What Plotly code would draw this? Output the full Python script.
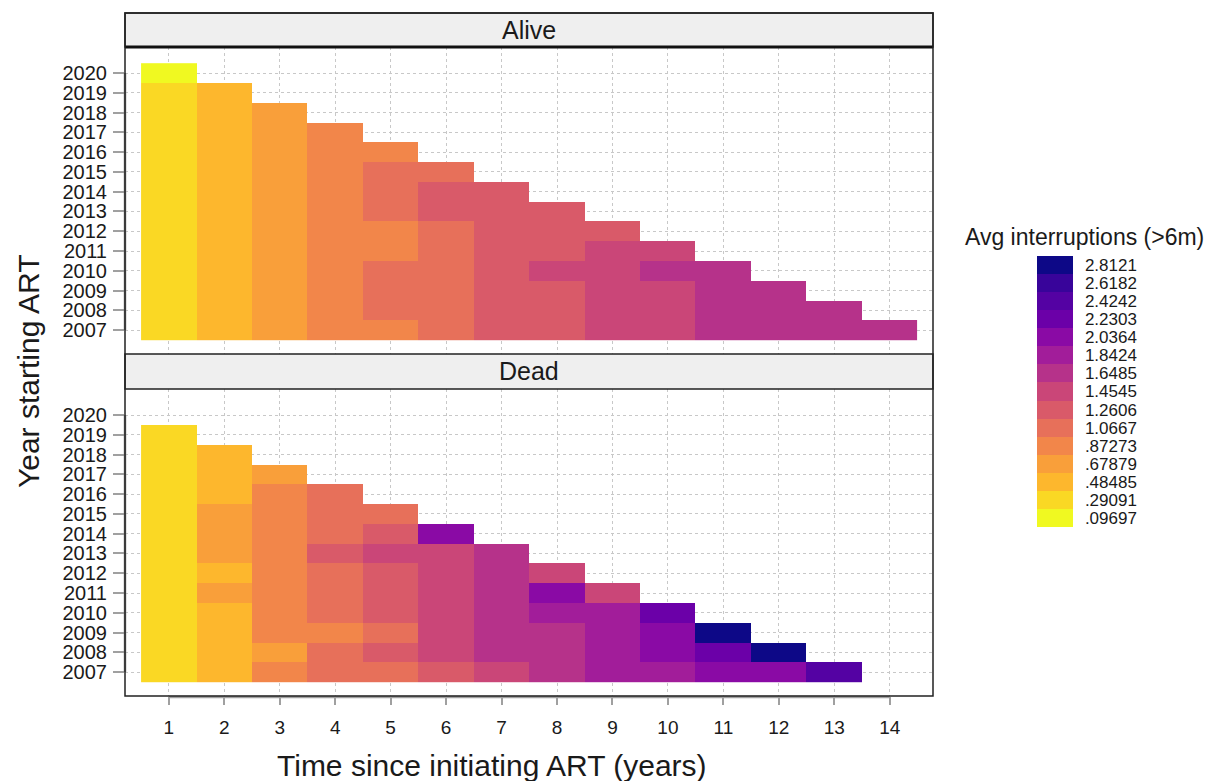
import plotly.graph_objects as go
from plotly.subplots import make_subplots

# ---- data ----
years = list(range(2007, 2021))
times = list(range(1, 15))

# legend levels (bin midpoints) and their labels
levels = [0.09697, 0.29091, 0.48485, 0.67879, 0.87273, 1.0667, 1.2606,
          1.4545, 1.6485, 1.8424, 2.0364, 2.2303, 2.4242, 2.6182, 2.8121]
level_labels = [".09697", ".29091", ".48485", ".67879", ".87273", "1.0667", "1.2606",
                "1.4545", "1.6485", "1.8424", "2.0364", "2.2303", "2.4242", "2.6182", "2.8121"]
bin_colors = ["#f0f921", "#fad824", "#fdb72d", "#f99f3a", "#f2864a", "#e7705a", "#d95a69",
              "#ca4678", "#b6328a", "#a21d9a", "#8a0aa5", "#6b00a8", "#5402a3", "#38049a", "#0d0887"]

# Alive panel: avg interruptions by year starting ART (rows) and time since ART (cols 1..)
alive = {
    2020: [0.097],
    2019: [0.291, 0.485],
    2018: [0.291, 0.485, 0.679],
    2017: [0.291, 0.485, 0.679, 0.873],
    2016: [0.291, 0.485, 0.679, 0.873, 0.873],
    2015: [0.291, 0.485, 0.679, 0.873, 1.067, 1.067],
    2014: [0.291, 0.485, 0.679, 0.873, 1.067, 1.261, 1.261],
    2013: [0.291, 0.485, 0.679, 0.873, 1.067, 1.261, 1.261, 1.261],
    2012: [0.291, 0.485, 0.679, 0.873, 0.873, 1.067, 1.261, 1.261, 1.261],
    2011: [0.291, 0.485, 0.679, 0.873, 0.873, 1.067, 1.261, 1.261, 1.455, 1.455],
    2010: [0.291, 0.485, 0.679, 0.873, 1.067, 1.067, 1.261, 1.455, 1.455, 1.648, 1.648],
    2009: [0.291, 0.485, 0.679, 0.873, 1.067, 1.067, 1.261, 1.261, 1.455, 1.455, 1.648, 1.648],
    2008: [0.291, 0.485, 0.679, 0.873, 1.067, 1.067, 1.261, 1.261, 1.455, 1.455, 1.648, 1.648, 1.648],
    2007: [0.291, 0.485, 0.679, 0.873, 0.873, 1.067, 1.261, 1.261, 1.455, 1.455, 1.648, 1.648, 1.648, 1.648],
}

# Dead panel
dead = {
    2020: [],
    2019: [0.291],
    2018: [0.291, 0.485],
    2017: [0.291, 0.485, 0.679],
    2016: [0.291, 0.485, 0.873, 1.067],
    2015: [0.291, 0.679, 0.873, 1.067, 1.067],
    2014: [0.291, 0.679, 0.873, 1.067, 1.261, 2.036],
    2013: [0.291, 0.679, 0.873, 1.261, 1.455, 1.455, 1.648],
    2012: [0.291, 0.485, 0.873, 1.067, 1.261, 1.455, 1.648, 1.455],
    2011: [0.291, 0.679, 0.873, 1.067, 1.261, 1.455, 1.648, 2.036, 1.455],
    2010: [0.291, 0.485, 0.873, 1.067, 1.261, 1.455, 1.648, 1.842, 1.842, 2.230],
    2009: [0.291, 0.485, 0.873, 0.873, 1.067, 1.455, 1.648, 1.648, 1.842, 2.036, 2.812],
    2008: [0.291, 0.485, 0.679, 1.067, 1.261, 1.455, 1.648, 1.648, 1.842, 2.036, 2.230, 2.812],
    2007: [0.291, 0.485, 0.873, 1.067, 1.067, 1.261, 1.455, 1.648, 1.842, 1.842, 2.036, 2.036, 2.424],
}


def to_matrix(d):
    rows = []
    for y in years:
        vals = d.get(y, [])
        rows.append(vals + [None] * (len(times) - len(vals)))
    return rows


half = (levels[1] - levels[0]) / 2
zmin = levels[0] - half
zmax = levels[-1] + half
n = len(bin_colors)
colorscale = []
for i, c in enumerate(bin_colors):
    colorscale.append([i / n, c])
    colorscale.append([(i + 1) / n, c])

FONT = "Liberation Sans, Arial, sans-serif"
TXT = "#1a1a1a"

fig = make_subplots(rows=2, cols=1, shared_xaxes=True, vertical_spacing=0.05)
fig.add_trace(go.Heatmap(x=times, y=years, z=to_matrix(alive), coloraxis="coloraxis",
                         hoverongaps=False, xgap=0, ygap=0), row=1, col=1)
fig.add_trace(go.Heatmap(x=times, y=years, z=to_matrix(dead), coloraxis="coloraxis",
                         hoverongaps=False, xgap=0, ygap=0), row=2, col=1)

# Plot area geometry (pixels): left 125, right 933, top 13, bottom 696
W, H = 1230, 781
L, R, T, B = 125, 933, 13, 696
pw, ph = R - L, B - T


def py(px):  # pixel y -> paper y
    return (B - px) / ph


def pxx(px):  # pixel x -> paper x
    return (px - L) / pw


top_dom = [py(354), py(47)]
bot_dom = [0, py(389)]

grid = dict(showgrid=True, gridcolor="#c8c8c8", griddash="dot", gridwidth=1, zeroline=False)
xr = [0.21, 14.78]
yr = [2005.79, 2021.32]

fig.update_layout(
    width=W, height=H,
    margin=dict(l=L, r=W - R, t=T, b=H - B, pad=0),
    plot_bgcolor="white", paper_bgcolor="white",
    font=dict(family=FONT, color=TXT),
    coloraxis=dict(
        colorscale=colorscale, cmin=zmin, cmax=zmax,
        colorbar=dict(
            x=pxx(1037), xanchor="left", xpad=0,
            y=py(391.5), yanchor="middle", ypad=0,
            lenmode="pixels", len=271, thickness=36,
            outlinewidth=0,
            tickmode="array", tickvals=levels, ticktext=level_labels,
            ticks="outside", ticklen=9, tickcolor="rgba(0,0,0,0)",
            tickfont=dict(size=17, family=FONT, color=TXT),
        ),
    ),
    xaxis=dict(domain=[0, 1], range=xr, tickvals=times, showticklabels=False,
               ticks="", showline=False, **grid),
    xaxis2=dict(domain=[0, 1], range=xr, tickvals=times, ticktext=[str(t) for t in times],
                ticks="outside", ticklen=8, tickwidth=2, tickcolor="#a0a0a0",
                tickfont=dict(size=19, family=FONT, color=TXT),
                ticklabelstandoff=6, showline=False, **grid),
    yaxis=dict(domain=top_dom, range=yr, tickvals=years, ticks="outside", ticklen=11,
               tickwidth=2, tickcolor="#a0a0a0", tickfont=dict(size=20, family=FONT, color=TXT),
               ticklabelstandoff=2, showline=False, **grid),
    yaxis2=dict(domain=bot_dom, range=yr, tickvals=years, ticks="outside", ticklen=11,
                tickwidth=2, tickcolor="#a0a0a0", tickfont=dict(size=20, family=FONT, color=TXT),
                ticklabelstandoff=2, showline=False, **grid),
    showlegend=False,
)

shapes = [
    # grey axis lines
    dict(type="line", xref="x2", yref="paper", x0=1, x1=14, y0=-0.0015, y1=-0.0015,
         line=dict(color="#a0a0a0", width=2.5)),
    dict(type="line", xref="paper", yref="y", x0=0, x1=0, y0=2007, y1=2020,
         line=dict(color="#8a8a8a", width=2.5)),
    dict(type="line", xref="paper", yref="y2", x0=0, x1=0, y0=2007, y1=2020,
         line=dict(color="#8a8a8a", width=2.5)),
    # strips
    dict(type="rect", xref="paper", yref="paper", x0=0, x1=1, y0=py(47), y1=1,
         fillcolor="#efefef", line=dict(color="#222222", width=1.5)),
    dict(type="rect", xref="paper", yref="paper", x0=0, x1=1, y0=py(389), y1=py(354),
         fillcolor="#efefef", line=dict(color="#222222", width=1.5)),
    dict(type="line", xref="paper", yref="paper", x0=0, x1=1, y0=py(47), y1=py(47),
         line=dict(color="#111111", width=3)),
    # outer frame
    dict(type="rect", xref="paper", yref="paper", x0=0, x1=1, y0=0, y1=1,
         line=dict(color="#222222", width=1.5), fillcolor="rgba(0,0,0,0)"),
]
fig.update_layout(shapes=shapes)

annotations = [
    dict(text="Alive", x=0.5, y=py(30), xref="paper", yref="paper", showarrow=False,
         font=dict(size=25, family=FONT, color=TXT), xanchor="center", yanchor="middle"),
    dict(text="Dead", x=0.5, y=py(371.5), xref="paper", yref="paper", showarrow=False,
         font=dict(size=25, family=FONT, color=TXT), xanchor="center", yanchor="middle"),
    dict(text="Year starting ART", x=pxx(28), y=py(372), xref="paper", yref="paper",
         showarrow=False, textangle=-90, font=dict(size=30, family=FONT, color=TXT),
         xanchor="center", yanchor="middle"),
    dict(text="Time since initiating ART (years)", x=pxx(492), y=py(765), xref="paper",
         yref="paper", showarrow=False, font=dict(size=30, family=FONT, color=TXT),
         xanchor="center", yanchor="middle"),
    dict(text="Avg interruptions (>6m)", x=pxx(963), y=py(237), xref="paper", yref="paper",
         showarrow=False, font=dict(size=23, family=FONT, color=TXT),
         xanchor="left", yanchor="middle"),
]
fig.update_layout(annotations=annotations)

fig.write_html("out.html")
